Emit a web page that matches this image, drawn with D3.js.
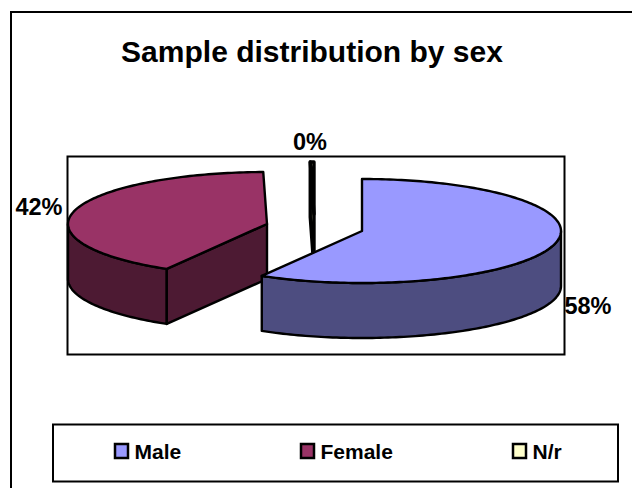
<!DOCTYPE html>
<html>
<head>
<meta charset="utf-8">
<script src="https://cdn.jsdelivr.net/npm/d3@7"></script>
<style>
    html, body { margin: 0; padding: 0; background: #fff; }
    svg { display: block; }
    text { font-family: "Liberation Sans", Arial, sans-serif; font-weight: bold; fill: #000; }
</style>
</head>
<body>
<div id="chart"></div>
<script>
const categories = ["Male", "Female", "N/r"];
const shares = [58.4, 41.3, 0.3];
const shownLabels = ["58%", "42%", "0%"];
const topColors = ["#9999ff", "#993366", "#ffffcc"];
const wallColors = ["#4d4d80", "#4d1a33", "#808066"];

const width = 632;
const height = 488;
const rx = 199;
const ry = 52;
const depth = 55;

// exploded slice centres, one per category
const centers = [[362, 231], [267, 224], [314, 214]];
const strokeWidths = [2.4, 2.4, 3.4];
const labelPos = [[588, 314], [39, 215], [310, 150]];
const legendX = [115, 301, 513];

const svg = d3.select("#chart").append("svg")
    .attr("width", width).attr("height", height)
    .attr("viewBox", [0, 0, width, height]);

svg.append("rect").attr("x", 11).attr("y", 12)
    .attr("width", 640).attr("height", 490)
    .attr("fill", "#fff").attr("stroke", "#000").attr("stroke-width", 2);

svg.append("text").attr("x", 312).attr("y", 62)
    .attr("text-anchor", "middle").attr("font-size", 30)
    .text("Sample distribution by sex");

svg.append("rect").attr("x", 67.5).attr("y", 156.5)
    .attr("width", 497).attr("height", 198)
    .attr("fill", "#fff").attr("stroke", "#000").attr("stroke-width", 2);

const arcs = d3.pie().sort(null).value(d => d)(shares);

function rim(c, a0, a1, dy) {
    const n = Math.max(2, Math.ceil((a1 - a0) / 0.02));
    return d3.range(n + 1).map(i => {
        const a = a0 + (a1 - a0) * i / n;
        return [c[0] + rx * Math.sin(a), c[1] + dy - ry * Math.cos(a)];
    });
}

const line = d3.line();
const drawOrder = [2, 1, 0];

drawOrder.forEach(i => {
    const d = arcs[i];
    const c = centers[i];
    const g = svg.append("g")
        .attr("stroke", "#000").attr("stroke-width", strokeWidths[i]).attr("stroke-linejoin", "round");

    // front wall is only the part of the rim between 90 and 270 degrees
    const a0 = Math.max(d.startAngle, Math.PI / 2);
    const a1 = Math.min(d.endAngle, Math.PI * 1.5);
    if (a1 > a0) {
        const top = rim(c, a0, a1, 0);
        const bottom = rim(c, a0, a1, depth).reverse();
        g.append("path").attr("fill", wallColors[i]).attr("d", line(top.concat(bottom)) + "Z");
    }

    // cut face going back to the centre, seen when the slice starts on the left
    if (d.startAngle > Math.PI) {
        const p = rim(c, d.startAngle, d.startAngle, 0)[0];
        g.append("path").attr("fill", wallColors[i])
            .attr("d", line([p, c, [c[0], c[1] + depth], [p[0], p[1] + depth]]) + "Z");
    }

    g.append("path").attr("fill", topColors[i])
        .attr("d", line([c].concat(rim(c, d.startAngle, d.endAngle, 0))) + "Z");
});

svg.selectAll("text.pct")
    .data(shownLabels)
    .join("text")
    .attr("class", "pct")
    .attr("x", (d, i) => labelPos[i][0])
    .attr("y", (d, i) => labelPos[i][1])
    .attr("text-anchor", "middle")
    .attr("font-size", 23.5)
    .text(d => d);

svg.append("rect").attr("x", 53).attr("y", 424.5)
    .attr("width", 565).attr("height", 57)
    .attr("fill", "#fff").attr("stroke", "#000").attr("stroke-width", 2);

const legend = svg.selectAll("g.legend")
    .data(categories)
    .join("g")
    .attr("class", "legend")
    .attr("transform", (d, i) => `translate(${legendX[i]},451)`);

legend.append("rect")
    .attr("y", -7).attr("width", 13).attr("height", 14)
    .attr("fill", (d, i) => topColors[i])
    .attr("stroke", "#000").attr("stroke-width", 2.5);

legend.append("text")
    .attr("x", 19.5).attr("y", 7.5)
    .attr("font-size", 21)
    .text(d => d);
</script>
</body>
</html>
